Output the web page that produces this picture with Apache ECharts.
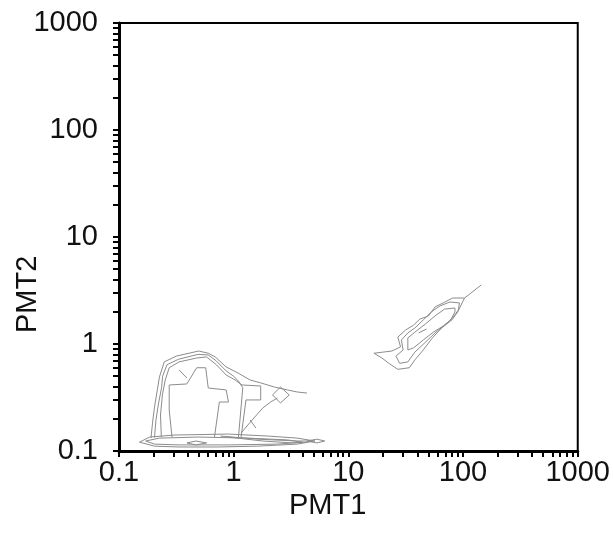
<!DOCTYPE html>
<html>
<head>
<meta charset="utf-8">
<script src="https://cdn.jsdelivr.net/npm/echarts@6/dist/echarts.min.js"></script>
<style>
html,body{margin:0;padding:0;background:#fff;}
#chart{width:613px;height:534px;}
</style>
</head>
<body>
<div id="chart"></div>
<script>
// Axis tick labels
const xTickLabels = [0.1, 1, 10, 100, 1000];
const yTickLabels = [0.1, 1, 10, 100, 1000];
const decadeStarts = [0.1, 1, 10, 100];
const decadeSteps = [1, 2, 3, 4, 5, 6, 7, 8, 9];

// Contours of the left (low-signal) population: [PMT1, PMT2]
const leftOuter = [[0.19,0.132],[0.196,0.183],[0.204,0.258],[0.216,0.372],[0.225,0.49],[0.248,0.68],[0.315,0.77],[0.495,0.86],[0.6,0.82],[0.69,0.757],[0.86,0.61],[1.09,0.536],[1.39,0.461],[1.72,0.433],[2.27,0.396],[2.94,0.372],[3.58,0.356],[4.36,0.348]];
const leftSecond = [[0.204,0.134],[0.21,0.195],[0.22,0.27],[0.235,0.39],[0.24,0.5],[0.262,0.64],[0.33,0.72],[0.49,0.8],[0.6,0.79],[0.7,0.7],[0.86,0.56],[1.0,0.5],[1.1,0.45],[1.2,0.39],[1.1,0.134]];
const leftThird = [[0.234,0.135],[0.23,0.217],[0.239,0.334],[0.253,0.461],[0.274,0.6],[0.334,0.68],[0.476,0.74],[0.58,0.757],[0.71,0.637],[0.86,0.513],[1.03,0.461],[1.18,0.414],[1.72,0.405],[1.72,0.3],[1.28,0.3],[1.16,0.135]];
const leftInner = [[0.29,0.135],[0.274,0.241],[0.274,0.414],[0.39,0.423],[0.476,0.6],[0.57,0.6],[0.6,0.388],[0.86,0.372],[0.9,0.287],[0.75,0.287],[0.68,0.135]];
const leftArc = [[1.16,0.147],[1.33,0.175],[1.53,0.208],[1.79,0.252],[2.1,0.287],[2.41,0.313]];
const leftDiamond = [[2.18,0.334],[2.56,0.396],[3.05,0.334],[2.56,0.281],[2.18,0.334]];
const leftTick1 = [[1.39,0.195],[1.56,0.164]];
const leftTick2 = [[0.334,0.572],[0.391,0.481]];
const bandOuter = [[0.151,0.121],[0.185,0.135],[0.303,0.141],[0.897,0.144],[1.98,0.138],[3.58,0.132],[5.11,0.124],[3.58,0.116],[1.62,0.111],[0.736,0.109],[0.334,0.109],[0.204,0.111],[0.151,0.121]];
const bandInner = [[0.171,0.124],[0.225,0.132],[0.495,0.135],[1.33,0.132],[2.94,0.127],[3.95,0.121],[2.41,0.116],[0.897,0.114],[0.334,0.114],[0.204,0.116],[0.171,0.124]];
const bandFan1 = [[0.766,0.138],[1.62,0.129],[3.58,0.124],[4.54,0.124]];
const bandFan2 = [[0.897,0.135],[1.79,0.124],[3.24,0.119],[4.36,0.121]];
const bandSmall = [[0.391,0.119],[0.468,0.124],[0.581,0.119],[0.468,0.114],[0.391,0.119]];
const bandDiamond = [[4.36,0.124],[5.31,0.129],[6.22,0.124],[5.31,0.119],[4.36,0.124]];

// Contours of the right (double-positive) population
const rightOuter = [[144,3.56],[103,2.69],[81,2.69],[67,2.42],[57,2.22],[50,1.83],[42,1.71],[37,1.5],[31.5,1.35],[27,1.16],[28.5,0.94],[24,0.86],[16.7,0.82],[19.6,0.74],[23,0.65],[27,0.58],[34,0.6],[38,0.71],[45,0.88],[54,1.14],[65,1.41],[80,1.68],[90,2.0],[99,2.47],[103,2.69]];
const rightSecond = [[93,2.42],[77,2.47],[63,2.27],[53,2.0],[45,1.68],[38,1.41],[33,1.27],[29,1.09],[30,0.88],[26,0.77],[28,0.66],[33,0.68],[38,0.84],[47,1.04],[57,1.27],[69,1.5],[81,1.75],[91,2.08],[93,2.42]];
const rightThird = [[85,2.17],[69,2.12],[57,1.83],[47,1.54],[38,1.29],[33,1.14],[33,0.88],[37,0.92],[45,1.09],[55,1.29],[67,1.47],[78,1.68],[85,2.0],[85,2.17]];
const rightCore = [[41,1.27],[48,1.38]];

const contours = [leftOuter, leftSecond, leftThird, leftInner, leftArc, leftDiamond, leftTick1, leftTick2,
  bandOuter, bandInner, bandFan1, bandFan2, bandSmall, bandDiamond, rightOuter, rightSecond, rightThird, rightCore];

const tickValues = [];
decadeStarts.forEach(d => decadeSteps.forEach(s => tickValues.push(+(d * s).toPrecision(3))));
tickValues.push(1000);

const chart = echarts.init(document.getElementById('chart'));
const fontFamily = '"Liberation Sans", Arial, sans-serif';
const axisCommon = {
  type: 'log', logBase: 10, min: 0.1, max: 1000,
  axisLine: { show: true, lineStyle: { color: '#000', width: 3 } },
  axisTick: { show: true, inside: false, length: 6, customValues: tickValues, lineStyle: { color: '#000', width: 2 } },
  splitLine: { show: false },
  minorTick: { show: false }
};
chart.setOption({
  animation: false,
  backgroundColor: '#fff',
  grid: { left: 119, right: 28, top: 23, bottom: 83, show: true, borderColor: '#000', borderWidth: 2, backgroundColor: 'transparent' },
  xAxis: Object.assign({}, axisCommon, {
    axisLabel: { customValues: xTickLabels, margin: 7, color: '#111', fontSize: 29, fontFamily: fontFamily, formatter: v => String(v) }
  }),
  yAxis: Object.assign({}, axisCommon, {
    axisLabel: { customValues: yTickLabels, margin: 21, color: '#111', fontSize: 29, fontFamily: fontFamily, formatter: v => String(v) }
  }),
  graphic: [
    { type: 'text', left: 289, top: 491, style: { text: 'PMT1', fontSize: 29, fontFamily: fontFamily, fill: '#111' } },
    { type: 'text', x: 13, y: 333, rotation: Math.PI / 2, style: { text: 'PMT2', fontSize: 29, fontFamily: fontFamily, fill: '#111' } }
  ],
  series: contours.map(c => ({
    type: 'line', data: c, symbol: 'none', silent: true, clip: false,
    lineStyle: { color: '#8c8c8c', width: 1 }
  }))
});
</script>
</body>
</html>
